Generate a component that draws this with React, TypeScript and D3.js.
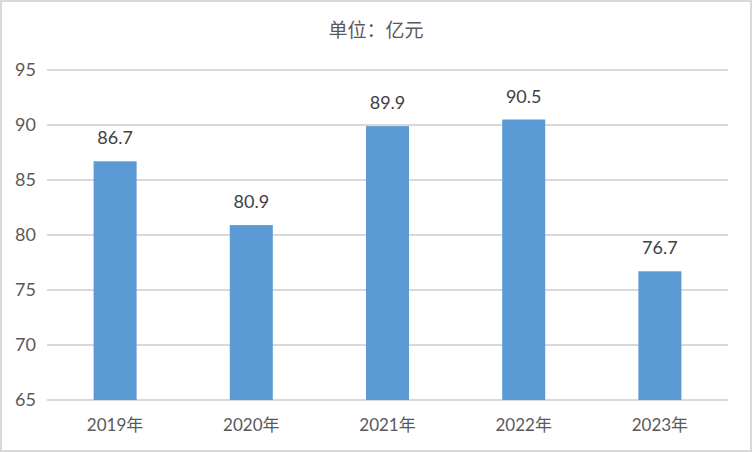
import React from "react";
import * as d3 from "d3";

const categories = ["2019年", "2020年", "2021年", "2022年", "2023年"];
const values = [86.7, 80.9, 89.9, 90.5, 76.7];
const yTicks = [65, 70, 75, 80, 85, 90, 95];
const title = "单位：亿元";

export default function App() {
  const W = 752, H = 452;
  const left = 47, right = 728, top = 70, bottom = 400;
  const x = d3.scaleBand<string>().domain(categories).range([left, right]).paddingInner(0.684).paddingOuter(0.342);
  const y = d3.scaleLinear().domain([65, 95]).range([bottom, top]);
  const font = "Lato, 'Noto Sans CJK SC', sans-serif";
  return (
    <svg width={W} height={H} style={{ position: "absolute", left: 0, top: 0 }}>
      <rect x={1} y={1} width={W - 2} height={H - 2} fill="#fff" stroke="#d9d9d9" strokeWidth={2} />
      <text x={376} y={37} textAnchor="middle" fontSize={19} fill="#595959" fontFamily="'Noto Sans CJK SC', sans-serif">{title}</text>
      {yTicks.map((t) => (
        <g key={t}>
          <line x1={left} x2={right} y1={y(t)} y2={y(t)} stroke="#d9d9d9" strokeWidth={2} />
          <text x={36} y={y(t) + 6} textAnchor="end" fontSize={18} fill="#595959" fontFamily={font}>{t}</text>
        </g>
      ))}
      {values.map((v, i) => {
        const c = categories[i];
        const bx = x(c)!;
        return (
          <g key={c}>
            <rect x={bx} y={y(v)} width={x.bandwidth()} height={bottom - y(v)} fill="#5b9bd5" />
            <text x={bx + x.bandwidth() / 2} y={y(v) - 17} textAnchor="middle" fontSize={18} fill="#404040" fontFamily={font}>{v.toFixed(1)}</text>
          </g>
        );
      })}
      {categories.map((c) => (
        <text key={c} x={x(c)! + x.bandwidth() / 2} y={431} textAnchor="middle" fontSize={17} fill="#595959" fontFamily={font}>{c}</text>
      ))}
    </svg>
  );
}
